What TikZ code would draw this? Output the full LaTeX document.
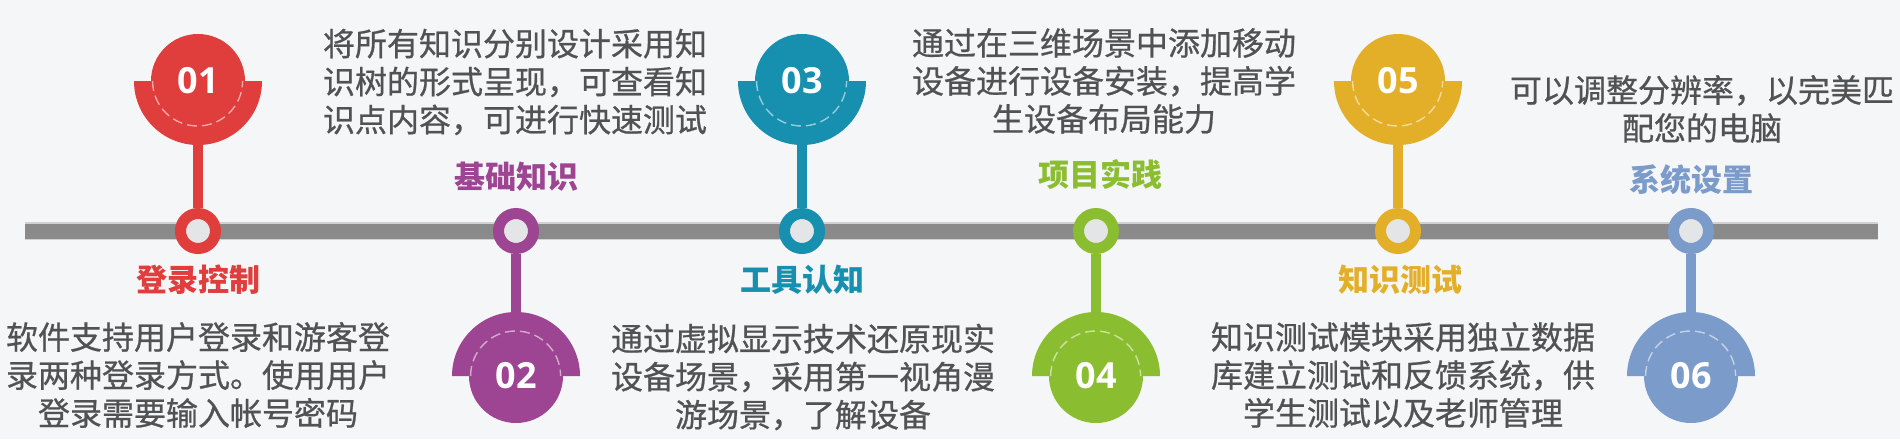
\documentclass[tikz,border=0pt]{standalone}
\usepackage{fontspec}
\newfontfamily\cjk{Noto Sans CJK SC}
\newfontfamily\cjkdesc{Noto Sans CJK SC}[FakeBold=0.7]
\newfontfamily\numfont{Open Sans}
\usepackage{xcolor}
\usepackage{tikz}
\usetikzlibrary{positioning}

\pgfdeclarelayer{back}
\pgfdeclarelayer{stems}
\pgfsetlayers{back,stems,main}

\definecolor{bgcol}{HTML}{F5F6F8}
\definecolor{barcol}{HTML}{8A8A8A}
\definecolor{dotcol}{HTML}{E4E5E7}
\definecolor{txtcol}{HTML}{525252}
\definecolor{redc}{HTML}{E03D3D}
\definecolor{purc}{HTML}{9D4592}
\definecolor{tealc}{HTML}{178FAF}
\definecolor{grnc}{HTML}{8BBD31}
\definecolor{yelc}{HTML}{E3AF28}
\definecolor{bluc}{HTML}{7B9BCB}

\begin{document}
\begin{tikzpicture}[
      x=0.5pt, y=-0.5pt,
      head/.style={circle, fill=#1, minimum size=47pt, inner sep=0pt, text=white,
        font=\numfont\bfseries\fontsize{18}{18}\selectfont},
      ring/.style={circle, draw=#1, line width=5.5pt, fill=dotcol, minimum size=17.5pt, inner sep=0pt},
      stem/.style={draw=#1, line width=5pt},
      title/.style={text=#1, font=\cjk\bfseries\fontsize{15.5}{18}\selectfont},
      desc/.style={text=txtcol, align=center, inner sep=0pt, font=\cjkdesc\fontsize{16}{19}\selectfont},
      seam/.style={draw=#1!45!white, line width=0.7pt, dash pattern=on 5pt off 2.5pt}
    ]
      \begin{pgfonlayer}{back}
        \fill[bgcol] (0,0) rectangle (1900,439);
      \end{pgfonlayer}
      \useasboundingbox (0,0) rectangle (1900,439);

      % timeline
      \coordinate (tstart) at (25,231);
      \coordinate (tend) at (1878,231);
      \draw[line width=8.6pt, black!18] (tstart) -- (tend);
      \draw[line width=7.5pt, barcol] (tstart) -- (tend);

      % markers above the line
      \foreach \n/\xx/\col in {01/198/redc, 03/802/tealc, 05/1398/yelc}{
        \fill[\col] (\xx-64,81) arc[start angle=180, end angle=360, radius=32pt] -- cycle;
        \node[head=\col] (head\n) at (\xx,81) {\n};
        \draw[seam=\col] ([xshift=1pt]head\n.west) arc[start angle=180, end angle=360, radius=22.5pt];
        \node[ring=\col] (ring\n) at (\xx,231) {};
        \begin{pgfonlayer}{stems}
          \draw[stem=\col] (head\n) -- (ring\n);
        \end{pgfonlayer}
      }

      % markers below the line
      \foreach \n/\xx/\col in {02/516/purc, 04/1096/grnc, 06/1691/bluc}{
        \fill[\col] (\xx-64,376) arc[start angle=180, end angle=0, radius=32pt] -- cycle;
        \node[head=\col] (head\n) at (\xx,376) {\n};
        \draw[seam=\col] ([xshift=1pt]head\n.west) arc[start angle=180, end angle=0, radius=22.5pt];
        \node[ring=\col] (ring\n) at (\xx,231) {};
        \begin{pgfonlayer}{stems}
          \draw[stem=\col] (head\n) -- (ring\n);
        \end{pgfonlayer}
      }

      % titles
      \node[title=redc]  (lab01) at (198,280)  {登录控制};
      \node[title=purc]  (lab02) at (516,177)  {基础知识};
      \node[title=tealc] (lab03) at (802,280)  {工具认知};
      \node[title=grnc]  (lab04) at (1100,175) {项目实践};
      \node[title=yelc]  (lab05) at (1400,280) {知识测试};
      \node[title=bluc]  (lab06) at (1691,180) {系统设置};

      % descriptions
      \node[desc] (txt01) at (198,375)  {软件支持用户登录和游客登\\录两种登录方式。使用用户\\登录需要输入帐号密码};
      \node[desc] (txt02) at (515,82)   {将所有知识分别设计采用知\\识树的形式呈现，可查看知\\识点内容，可进行快速测试};
      \node[desc] (txt03) at (803,377)  {通过虚拟显示技术还原现实\\设备场景，采用第一视角漫\\游场景，了解设备};
      \node[desc] (txt04) at (1104,81)  {通过在三维场景中添加移动\\设备进行设备安装，提高学\\生设备布局能力};
      \node[desc] (txt05) at (1403,375) {知识测试模块采用独立数据\\库建立测试和反馈系统，供\\学生测试以及老师管理};
      \node[desc] (txt06) at (1702,109) {可以调整分辨率，以完美匹\\配您的电脑};
    \end{tikzpicture}
\end{document}
